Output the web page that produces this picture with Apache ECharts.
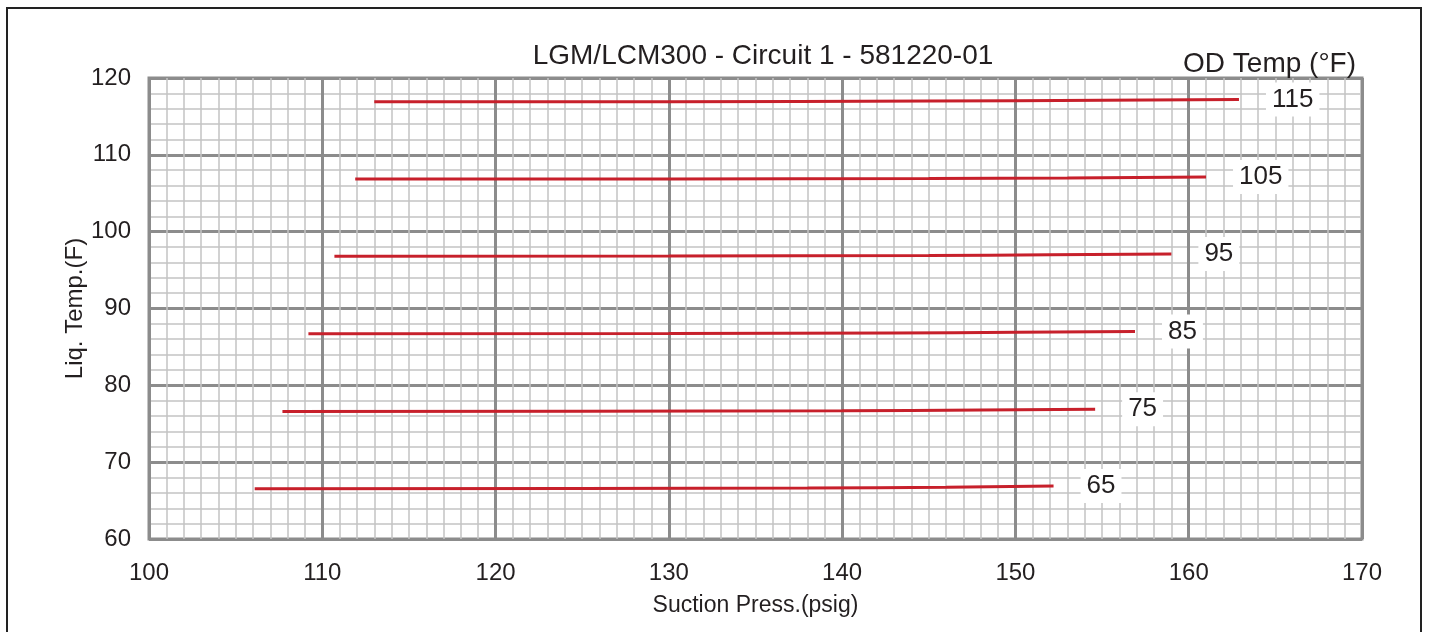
<!DOCTYPE html>
<html><head><meta charset="utf-8">
<script src="https://cdn.jsdelivr.net/npm/echarts@6/dist/echarts.min.js"></script>
<style>html,body{margin:0;padding:0;background:#fff}#c{width:1429px;height:632px}</style>
</head><body><div id="c"></div>
<script>
const xTicks = [100,110,120,130,140,150,160,170];
const yTicks = [60,70,80,90,100,110,120];
const odTemps = ['115','105','95','85','75','65'];
const line115 = [[113.0,116.9],[130,116.92],[145,117.0],[155,117.1],[162.9,117.2]];
const line105 = [[111.9,106.85],[130,106.87],[145,106.93],[153,107.0],[161.0,107.1]];
const line95  = [[110.7,96.8],[130,96.83],[145,96.9],[152,96.98],[159.0,97.08]];
const line85  = [[109.2,86.7],[130,86.74],[143,86.82],[150,86.9],[156.9,87.02]];
const line75  = [[107.7,76.6],[125,76.63],[140,76.7],[148,76.8],[154.6,76.9]];
const line65  = [[106.1,66.55],[125,66.58],[138,66.65],[146,66.75],[152.2,66.9]];
const lines = [line115,line105,line95,line85,line75,line65];

const chart = echarts.init(document.getElementById('c'));
const font = '"Liberation Sans", Arial, sans-serif';
chart.setOption({
  animation:false,
  backgroundColor:'#fff',
  graphic:[{type:'rect',shape:{x:7,y:8,width:1414,height:640},style:{fill:'none',stroke:'#222',lineWidth:2},silent:true}],
  title:[{text:'LGM/LCM300 - Circuit 1 - 581220-01',left:758,top:37,textAlign:'center',
    textStyle:{fontFamily:font,fontSize:28,fontWeight:'normal',color:'#231f20'}},
    {text:'OD Temp (°F)',right:68,top:45,textStyle:{fontFamily:font,fontSize:28,fontWeight:'normal',color:'#231f20'}}],
  grid:{left:149,right:67,top:78,bottom:93,show:true,borderColor:'#8c8c8c',borderWidth:3,backgroundColor:'#fff'},
  xAxis:{type:'value',min:xTicks[0],max:xTicks[xTicks.length-1],interval:10,
    name:'Suction Press.(psig)',nameLocation:'middle',nameGap:55,
    nameTextStyle:{fontFamily:font,fontSize:23,color:'#231f20'},
    axisLine:{show:false},axisTick:{show:false},
    axisLabel:{fontFamily:font,fontSize:24,color:'#231f20',margin:22},
    splitLine:{show:true,lineStyle:{color:'#8c8c8c',width:3}},
    minorTick:{show:false,splitNumber:10},
    minorSplitLine:{show:true,lineStyle:{color:'#c4c4c4',width:1.5}}},
  yAxis:{type:'value',min:yTicks[0],max:yTicks[yTicks.length-1],interval:10,
    name:'Liq. Temp.(F)',nameLocation:'middle',nameGap:62,nameMoveOverlap:false,
    nameTextStyle:{fontFamily:font,fontSize:24,color:'#231f20'},
    axisLine:{show:false},axisTick:{show:false},
    axisLabel:{fontFamily:font,fontSize:24,color:'#231f20',margin:18},
    splitLine:{show:true,lineStyle:{color:'#8c8c8c',width:3}},
    minorTick:{show:false,splitNumber:5},
    minorSplitLine:{show:true,lineStyle:{color:'#c4c4c4',width:1.5}}},
  series: lines.map((d,i)=>({
    type:'line',data:d,smooth:true,symbol:'none',z:5,
    lineStyle:{color:'#c7202b',width:3},
    endLabel:{show:true,formatter:odTemps[i],distance:27,fontFamily:font,fontSize:26,color:'#231f20',
      backgroundColor:'#fff',padding:[4,6,4,6]}
  }))
});
</script></body></html>
